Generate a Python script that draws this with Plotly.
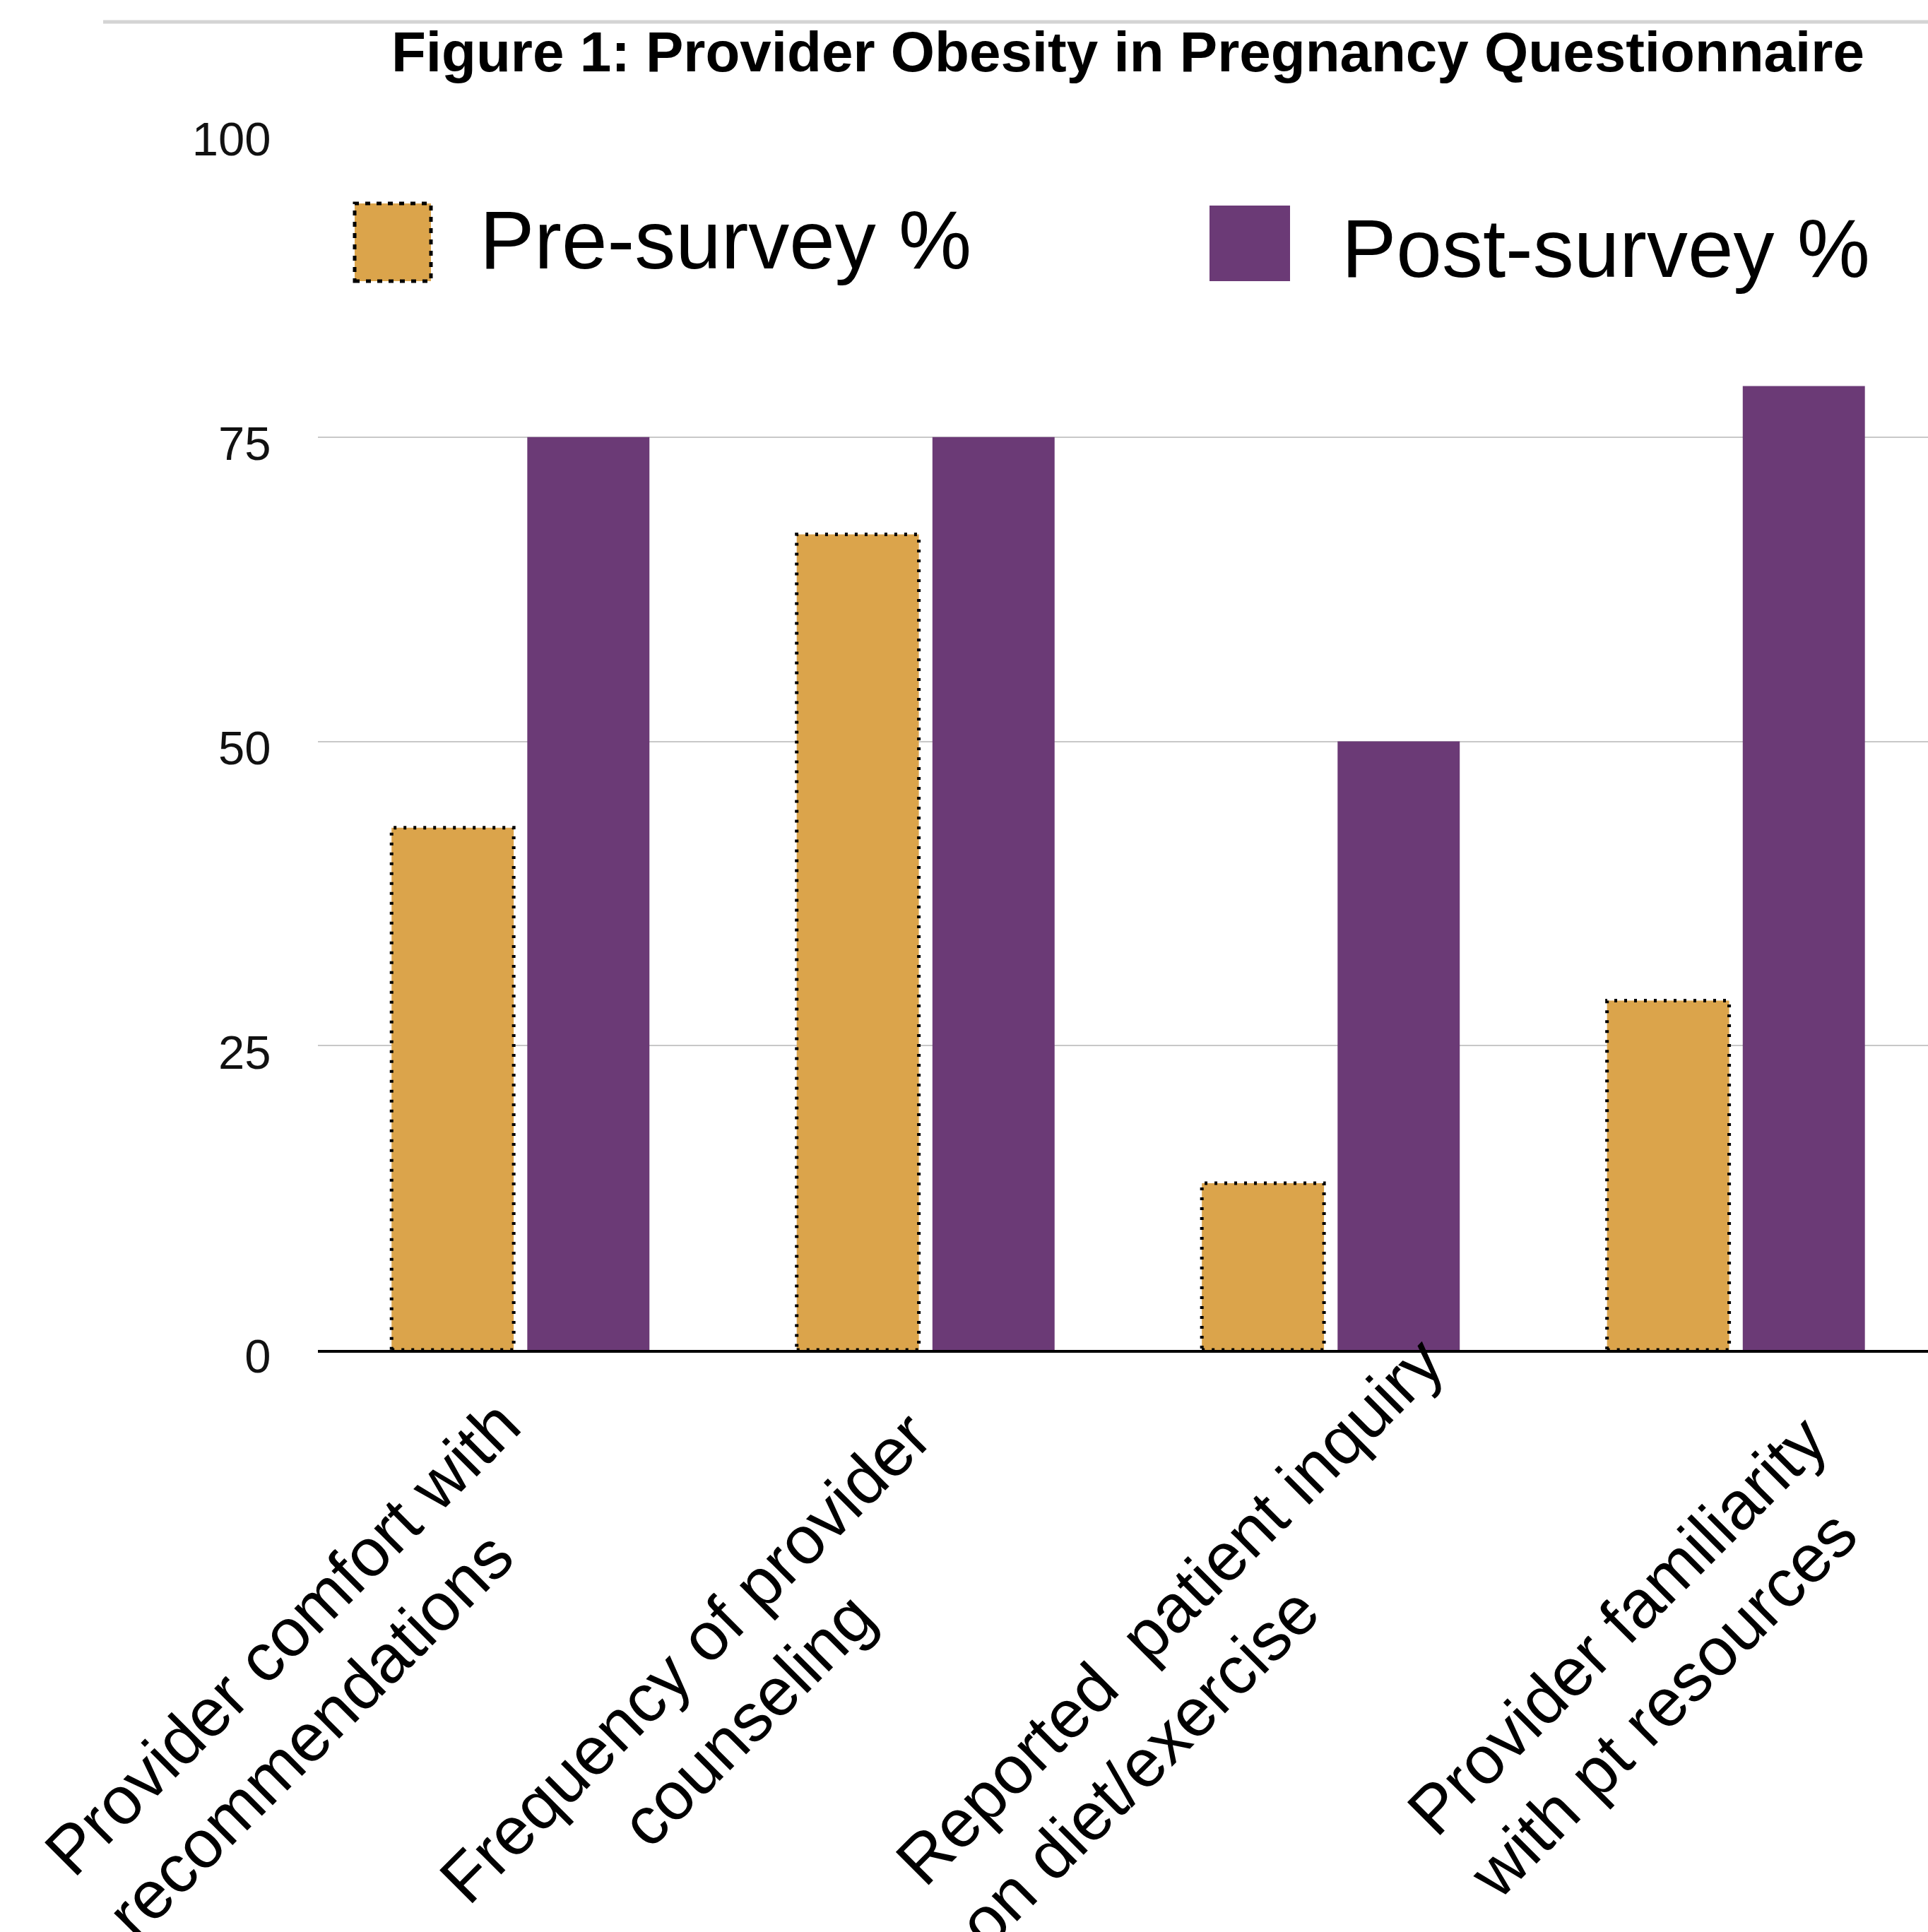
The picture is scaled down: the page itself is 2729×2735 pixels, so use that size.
import plotly.graph_objects as go

# ---------------- data ----------------
categories = [
    "Provider comfort with<br>recommendations",
    "Frequency of provider<br>counseling",
    "Reported  patient inquiry<br>on diet/exercise",
    "Provider familiarity<br>with pt resources",
]
pre_survey = [42.9, 67.0, 13.7, 28.7]
post_survey = [75.0, 75.0, 50.0, 79.2]
series_names = ["Pre-survey %", "Post-survey %"]
y_tick_values = [0, 25, 50, 75, 100]
grid_values = [25, 50, 75]
title_text = "Figure 1: Provider Obesity in Pregnancy Questionnaire"

# ---------------- style ----------------
W, H = 2729, 2735
ML, MR, MT, MB = 450, 0, 188, 824
FONT = "Liberation Sans, Arial, Helvetica, sans-serif"
PRE_COLOR = "#DBA44B"
POST_COLOR = "#6B3A76"
BARGAP = 0.33
BARGROUPGAP = 0.1
label_pos = [(-0.0026, -0.262, "left"), (0.2475, -0.278, "center"),
             (0.548, -0.240, "left"), (0.826, -0.252, "left")]

cat_idx = list(range(len(categories)))

fig = go.Figure()
# empty helper trace so the grid-only overlay axis is rendered
fig.add_trace(go.Scatter(x=[None], y=[None], yaxis="y2", mode="markers",
                         showlegend=False, hoverinfo="skip"))
fig.add_trace(go.Bar(x=cat_idx, y=pre_survey, name=series_names[0],
                     marker=dict(color=PRE_COLOR, line=dict(width=0)),
                     showlegend=False))
fig.add_trace(go.Bar(x=cat_idx, y=post_survey, name=series_names[1],
                     marker=dict(color=POST_COLOR, line=dict(width=0)),
                     showlegend=False))

# dotted outline on pre-survey bars, derived from the bar layout parameters
slot = (1 - BARGAP) / 2
bw = slot * (1 - BARGROUPGAP)
shapes = []
for i, v in zip(cat_idx, pre_survey):
    c = i - slot / 2
    shapes.append(dict(type="rect", xref="x", yref="y", x0=c - bw / 2, x1=c + bw / 2,
                       y0=0, y1=v, line=dict(color="black", width=5, dash="4px,10px"),
                       fillcolor="rgba(0,0,0,0)", layer="above"))

def px_x(X):
    return (X - ML) / (W - ML - MR)

def px_y(Y):
    return (H - MB - Y) / (H - MT - MB)

# top rule
shapes.append(dict(type="line", xref="paper", yref="paper", x0=px_x(146), x1=1,
                   y0=px_y(31), y1=px_y(31), line=dict(color="#d4d4d4", width=5)))
# legend swatches
shapes.append(dict(type="rect", xref="paper", yref="paper",
                   x0=px_x(502), x1=px_x(610), y0=px_y(398), y1=px_y(288),
                   fillcolor=PRE_COLOR, line=dict(color="black", width=5, dash="7px,9px")))
shapes.append(dict(type="rect", xref="paper", yref="paper",
                   x0=px_x(1712), x1=px_x(1826), y0=px_y(398), y1=px_y(291),
                   fillcolor=POST_COLOR, line=dict(width=0)))

annotations = [
    dict(text=series_names[0], xref="paper", yref="paper", x=px_x(677), y=px_y(340),
         xanchor="left", yanchor="middle", showarrow=False,
         font=dict(family=FONT, size=116, color="black")),
    dict(text=series_names[1], xref="paper", yref="paper", x=px_x(1897), y=px_y(352),
         xanchor="left", yanchor="middle", showarrow=False,
         font=dict(family=FONT, size=116, color="black")),
]
for lab, (xp, yp, al) in zip(categories, label_pos):
    annotations.append(dict(text=lab, xref="paper", yref="paper", x=xp, y=yp,
                            xanchor="center", yanchor="middle", textangle=-45,
                            align=al, showarrow=False,
                            font=dict(family=FONT, size=96, color="black")))

fig.update_layout(
    width=W, height=H,
    margin=dict(l=ML, r=MR, t=MT, b=MB, autoexpand=False),
    paper_bgcolor="white", plot_bgcolor="white",
    barmode="group", bargap=BARGAP, bargroupgap=BARGROUPGAP,
    title=dict(text="<b>" + title_text + "</b>", x=0.585, xanchor="center",
               y=1 - 73 / H, yanchor="middle", xref="container", yref="container",
               font=dict(family=FONT, size=80, color="black")),
    xaxis=dict(type="linear", range=[-0.5, 3.474], showticklabels=False, showgrid=False,
               zeroline=False, showline=True, linecolor="black", linewidth=4, ticks=""),
    yaxis=dict(range=[0, 100], tickvals=y_tick_values, showgrid=False, zeroline=False,
               ticks="outside", ticklen=52, tickcolor="rgba(0,0,0,0)",
               ticklabelshift=9,
               tickfont=dict(family=FONT, size=67, color="#111111"), showline=False),
    yaxis2=dict(range=[0, 100], overlaying="y", tickvals=grid_values, showgrid=True,
                gridcolor="#c8c8c8", gridwidth=2, showticklabels=False, zeroline=False,
                side="left", ticks="", showline=False),
    shapes=shapes, annotations=annotations,
)

fig.write_html("out.html")
